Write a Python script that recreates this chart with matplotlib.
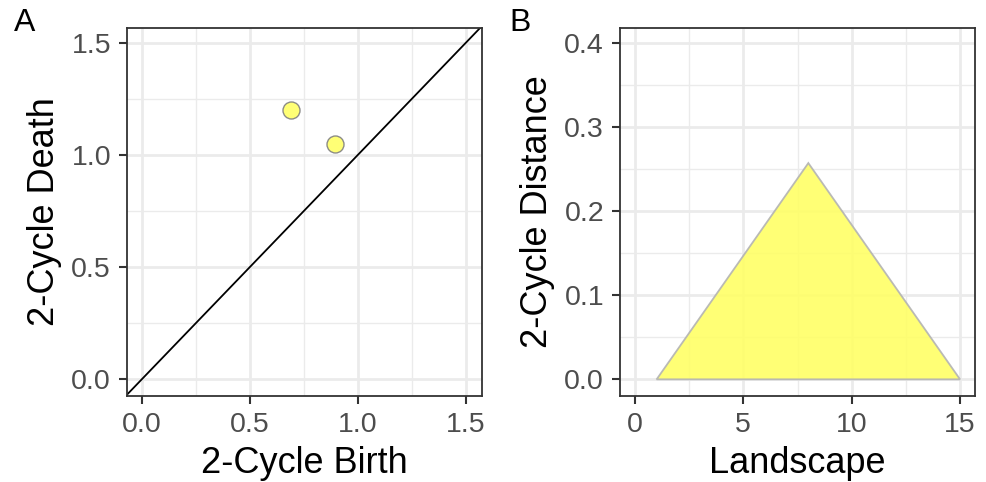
import numpy as np
import matplotlib.pyplot as plt
from matplotlib.ticker import MultipleLocator

plt.rcParams['font.family'] = ['Liberation Sans', 'DejaVu Sans']

# persistence diagram points
birth = [0.69, 0.895]
death = [1.20, 1.05]

# landscape
land_x = [1, 8, 15]
land_y = [0.0, 0.257, 0.0]

W, H = 987, 482
fig = plt.figure(figsize=(W / 100, H / 100), dpi=100)

def style(ax, major, minor):
    ax.set_facecolor('white')
    ax.xaxis.set_major_locator(MultipleLocator(major[0]))
    ax.xaxis.set_minor_locator(MultipleLocator(minor[0]))
    ax.yaxis.set_major_locator(MultipleLocator(major[1]))
    ax.yaxis.set_minor_locator(MultipleLocator(minor[1]))
    ax.grid(True, which='major', color='#EBEBEB', lw=2.0, zorder=0)
    ax.grid(True, which='minor', color='#EBEBEB', lw=1.0, zorder=0)
    ax.set_axisbelow(True)
    for s in ax.spines.values():
        s.set_color('#333333')
        s.set_linewidth(1.3)
    ax.tick_params(which='major', length=6, width=1.5, color='#333333',
                   labelsize=20.5, labelcolor='#4D4D4D', pad=5.5)
    ax.tick_params(which='minor', length=0)

# Panel A
axA = fig.add_axes([127 / W, 1 - 396 / H, 355 / W, 368 / H])
style(axA, (0.5, 0.5), (0.25, 0.25))
axA.set_xlim(-0.068, 1.574)
axA.set_ylim(-0.074, 1.565)
xx = np.array([-0.1, 1.7])
axA.plot(xx, xx, color='black', lw=1.3, zorder=2)
axA.scatter(birth, death, s=150, color='#FFFF66', edgecolor='#808080',
            linewidth=1.0, alpha=0.9, zorder=3)
axA.xaxis.set_major_formatter(lambda v, p: f'{v:.1f}')
axA.yaxis.set_major_formatter(lambda v, p: f'{v:.1f}')
axA.set_xlabel('2-Cycle Birth', fontsize=26, labelpad=6)
axA.set_ylabel('2-Cycle Death', fontsize=26, labelpad=7)
fig.text(14 / W, 1 - 23 / H, 'A', fontsize=23, va='center', ha='left')

# Panel B
axB = fig.add_axes([620 / W, 1 - 396 / H, 355 / W, 368 / H])
style(axB, (5, 0.1), (2.5, 0.05))
axB.set_xlim(-0.69, 15.69)
axB.set_ylim(-0.0198, 0.4175)
axB.fill(land_x, land_y, facecolor='#FFFF66', alpha=0.9,
         edgecolor='#B3B3B3', lw=1.3, zorder=3)
axB.yaxis.set_major_formatter(lambda v, p: f'{v:.1f}')
axB.xaxis.set_major_formatter(lambda v, p: f'{v:.0f}')
axB.set_xlabel('Landscape', fontsize=26, labelpad=6)
axB.set_ylabel('2-Cycle Distance', fontsize=26, labelpad=7)
fig.text(509 / W, 1 - 23 / H, 'B', fontsize=23, va='center', ha='left')

fig.savefig('out.png', dpi=100)
